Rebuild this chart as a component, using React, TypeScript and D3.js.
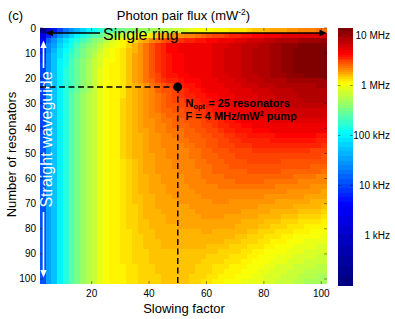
import React from "react";
import * as d3 from "d3";

// Slowing factor (cell centres) and number of resonators (cell centres)
const slowingFactor = [3,5,7,9,11,13,15,17,19,21,23,25,27,29,31,33,35,37,39,41,43,45,47,49,51,53,55,57,59,61,63,65,67,69,71,73,75,77,79,81,83,85,87,89,91,93,95,97,99,101];
const resonators = [1,3,5,7,9,11,13,15,17,19,21,23,25,27,29,31,33,35,37,39,41,43,45,47,49,51,53,55,57,59,61,63,65,67,69,71,73,75,77,79,81,83,85,87,89,91,93,95,97,99,101];

// log10(photon pair flux in Hz) x 100, one row per resonator count, one column per slowing factor
const logFluxX100 = [
[215,310,370,400,425,445,468,483,498,510,520,530,538,544,550,555,559,563,567,570,573,576,579,582,585,590,595,600,603,604,606,607,608,609,610,612,615,617,619,622,624,626,627,629,631,632,634,635,636,637],
[330,385,420,445,465,485,500,512,525,538,548,558,568,576,584,590,596,602,607,612,617,621,625,628,630,632,634,636,640,643,647,650,652,654,656,658,660,662,664,667,669,670,672,673,674,675,676,677,677,678],
[360,415,445,470,490,505,520,533,545,555,566,577,588,598,605,610,615,620,626,632,638,643,647,650,653,655,657,659,660,662,664,666,668,670,672,675,678,681,683,686,688,690,692,694,696,698,700,701,702,703],
[375,432,458,482,500,515,530,543,555,566,577,588,596,600,606,613,620,628,636,644,651,657,662,664,665,666,666,667,667,670,672,675,677,679,681,684,686,689,692,695,698,701,703,706,708,709,711,711,712,712],
[385,440,466,490,508,523,537,550,562,573,584,594,601,605,610,617,623,630,637,644,651,657,662,664,665,666,666,667,668,671,673,676,678,680,682,685,687,690,693,696,699,702,705,708,709,711,712,712,713,713],
[390,443,470,494,512,528,541,554,566,577,588,597,603,607,612,618,625,631,638,644,651,656,661,663,664,665,666,667,668,671,673,676,678,680,682,685,687,690,693,696,699,702,705,708,709,711,712,712,713,713],
[393,445,472,496,515,531,544,557,569,580,590,599,604,607,612,618,625,631,638,644,651,656,661,663,664,665,666,667,668,671,673,676,678,680,682,685,687,690,693,696,699,702,705,708,709,711,712,712,713,713],
[395,447,474,497,517,533,546,559,571,582,592,600,605,607,612,618,625,631,638,644,651,656,661,663,664,665,666,667,668,671,673,676,678,680,682,685,687,690,693,696,699,702,705,708,709,711,712,712,713,713],
[397,448,475,498,518,535,548,561,573,584,593,601,605,607,612,618,625,631,638,644,651,656,661,663,664,665,666,667,668,671,673,676,678,680,682,685,687,690,693,696,699,702,705,708,709,711,712,712,713,713],
[397,448,475,498,518,535,548,561,573,584,593,601,605,607,612,618,625,631,637,643,649,654,658,660,662,664,665,666,667,670,672,675,677,679,681,684,686,689,692,694,697,700,702,705,706,708,709,709,710,710],
[397,448,475,498,518,535,548,561,573,584,593,601,605,607,612,618,625,630,636,641,647,651,654,657,660,662,663,664,666,668,671,673,675,677,679,681,684,686,688,691,693,695,696,698,699,700,701,701,702,702],
[397,448,475,498,518,535,548,561,573,584,593,601,605,607,612,617,623,627,631,636,640,644,647,652,656,658,660,662,665,667,669,671,673,675,677,679,680,682,684,686,688,690,691,693,694,695,696,696,697,697],
[397,448,475,498,518,535,548,561,573,584,593,601,605,607,612,617,623,627,631,635,639,643,646,650,653,656,658,660,663,665,666,668,670,672,674,675,677,678,680,682,684,686,687,689,690,691,692,692,693,693],
[400,450,477,500,520,537,550,563,575,585,594,601,605,607,612,617,623,627,631,635,638,642,645,648,651,654,656,658,660,662,664,666,668,671,673,674,676,677,679,681,683,685,686,688,689,690,691,691,692,692],
[400,450,477,500,520,537,550,563,575,585,594,601,605,608,613,618,623,627,631,635,638,641,644,647,650,652,654,656,658,660,662,664,667,669,672,673,675,676,678,680,682,684,685,687,688,689,690,690,691,691],
[400,450,477,500,520,537,550,563,575,585,594,601,605,608,613,618,623,627,631,634,637,640,643,646,648,650,652,654,656,658,660,662,665,667,670,672,673,675,677,678,680,681,683,684,685,685,686,686,687,687],
[400,450,477,500,520,537,550,563,575,585,594,601,605,608,613,618,622,626,630,633,636,639,641,643,645,647,649,651,653,655,658,660,663,665,668,670,671,673,674,676,677,678,679,680,681,681,682,682,682,682],
[400,450,477,500,520,537,550,563,575,585,594,601,605,608,613,617,622,626,629,632,635,637,640,641,643,645,647,649,651,653,656,658,661,663,666,668,669,671,672,674,675,676,676,677,678,678,679,679,679,679],
[400,450,477,500,520,537,550,563,575,585,594,601,605,608,613,617,621,625,628,631,634,636,638,640,641,643,644,646,648,651,653,656,658,661,663,665,666,668,669,671,672,673,673,674,674,675,675,675,675,675],
[400,450,477,500,520,537,550,563,575,585,594,601,605,608,613,617,621,625,628,631,633,635,637,639,640,642,643,645,647,649,652,654,656,659,661,662,664,665,666,668,669,670,670,671,671,671,671,671,671,671],
[400,450,477,500,520,537,550,563,575,585,594,601,605,608,613,617,621,624,627,630,632,634,636,637,638,640,641,643,645,647,650,652,654,656,658,659,661,662,663,664,665,666,666,667,667,667,667,667,666,666],
[405,450,477,500,520,537,550,563,575,585,594,601,605,608,613,617,620,623,626,629,631,633,635,636,637,639,640,641,643,645,648,650,652,653,655,656,658,659,660,660,661,662,662,663,663,662,662,662,661,661],
[405,450,477,500,520,537,550,563,575,585,594,601,605,608,613,617,620,623,626,629,631,633,634,635,636,638,639,640,642,644,646,648,650,651,653,654,655,656,657,657,658,658,659,659,659,658,658,658,657,657],
[405,450,477,500,520,537,550,563,575,585,594,601,605,608,613,617,620,623,626,628,631,632,633,634,635,637,638,639,641,643,645,647,648,650,651,652,653,654,654,655,655,655,656,656,656,655,655,654,654,653],
[405,450,477,500,520,537,550,563,575,585,594,601,605,608,613,617,620,623,625,628,630,631,632,633,634,635,636,638,640,642,643,645,646,648,649,650,650,651,651,652,652,652,652,652,652,651,651,650,650,649],
[405,450,477,500,520,537,550,563,575,585,594,601,605,608,613,617,620,622,625,627,629,631,632,633,634,635,636,637,639,641,642,644,645,646,647,648,648,649,649,650,650,650,649,649,649,648,648,647,647,646],
[405,450,477,500,520,537,550,563,575,585,594,601,605,608,612,616,619,622,624,627,629,630,631,632,633,634,635,636,638,639,641,642,643,645,646,646,647,647,647,647,647,647,646,646,646,645,645,644,644,643],
[405,450,477,500,520,537,550,563,575,585,594,601,605,608,612,616,619,622,624,626,628,630,631,632,633,634,635,636,637,638,640,641,642,643,644,644,645,645,645,645,645,645,644,644,644,643,643,642,642,641],
[412,450,477,500,521,538,551,564,576,586,595,601,605,608,612,616,619,621,624,626,628,629,630,631,632,633,634,635,636,637,639,640,641,641,642,642,643,643,643,643,643,643,642,642,641,641,640,639,639,638],
[412,450,477,500,521,538,551,564,576,586,595,601,605,608,612,615,618,621,623,625,627,628,629,630,631,632,633,634,636,637,637,638,639,640,641,641,641,641,641,640,640,640,639,639,638,637,637,636,635,635],
[412,450,477,500,521,538,551,564,576,586,595,601,605,608,612,615,618,621,623,625,627,628,629,630,631,632,633,634,635,636,636,637,638,638,639,639,639,639,639,638,638,638,637,637,636,635,635,634,633,633],
[412,450,477,500,521,538,551,564,576,586,595,601,605,608,612,615,618,620,622,624,626,627,628,629,630,631,632,633,634,635,635,636,636,637,637,637,637,637,637,636,636,635,635,634,633,633,632,631,631,630],
[412,450,477,500,521,538,551,564,576,586,595,601,605,608,611,614,617,620,622,624,626,627,628,629,630,630,631,632,633,633,634,634,634,635,635,635,634,634,634,633,633,632,632,631,630,630,629,628,628,627],
[412,450,477,500,521,538,551,564,576,586,595,601,605,608,611,614,617,619,621,623,625,626,627,628,629,629,630,631,632,632,633,633,633,633,633,633,632,632,632,631,631,630,630,629,628,628,627,626,626,625],
[412,450,477,500,521,538,551,564,576,586,595,601,605,608,611,614,617,619,621,623,624,625,626,627,628,628,629,630,631,631,632,632,632,631,631,631,630,630,629,629,628,627,627,626,625,625,624,623,623,622],
[412,450,477,500,521,538,551,564,576,586,595,601,605,607,611,613,616,618,620,622,624,625,626,626,627,627,628,629,630,630,630,630,630,630,630,629,629,628,627,627,626,625,625,624,623,622,621,620,620,619],
[412,450,477,500,521,538,551,564,576,586,595,601,605,607,611,613,616,618,620,622,623,624,625,625,626,626,627,628,629,629,629,629,629,628,628,627,627,626,625,624,623,622,622,621,620,619,618,617,617,616],
[412,450,477,500,521,538,551,564,576,586,595,601,605,607,610,613,616,618,620,621,622,623,624,624,625,625,626,627,628,628,628,628,627,627,626,625,625,624,623,622,621,620,619,618,617,616,615,614,613,612],
[412,450,477,500,521,538,551,564,576,586,595,601,605,607,610,613,615,617,619,621,622,623,624,624,625,625,625,625,626,626,626,626,625,625,624,623,623,622,621,619,618,617,616,615,614,612,611,610,609,608],
[412,450,477,500,521,538,551,564,576,586,595,601,605,607,610,613,615,617,619,620,621,622,623,623,624,624,624,624,625,625,625,625,624,624,623,622,621,620,619,617,616,615,613,612,611,609,608,607,606,605],
[412,450,477,500,521,538,551,564,576,586,595,601,605,607,610,612,615,617,618,619,620,621,622,622,623,623,623,623,624,624,623,623,622,622,621,620,619,618,616,615,613,612,610,609,608,606,605,604,602,601],
[412,450,477,500,521,538,551,564,576,586,595,601,605,607,609,612,614,616,618,619,620,621,622,622,622,622,622,622,622,622,622,622,621,620,619,618,616,615,614,612,611,609,608,606,604,603,601,600,599,598],
[412,450,477,500,521,538,551,564,576,586,595,601,605,607,609,612,614,616,617,618,619,620,621,621,621,621,621,621,621,621,620,620,619,618,617,616,614,613,611,610,608,606,605,603,601,600,598,597,595,594],
[412,450,477,500,521,538,551,564,576,586,595,601,605,607,609,612,614,616,617,618,619,620,620,620,620,620,620,620,620,619,619,618,617,616,615,614,612,611,609,607,605,603,602,600,598,597,595,594,592,591],
[412,450,477,500,521,538,551,564,576,586,595,601,605,606,609,611,613,615,616,617,618,619,619,619,619,619,619,619,618,617,617,616,615,614,613,611,610,608,606,604,602,600,599,597,595,593,591,590,588,587],
[412,450,477,500,521,538,551,564,576,586,595,601,605,606,609,611,613,615,616,617,618,619,619,619,619,619,619,618,617,616,616,615,614,612,611,609,608,606,604,602,600,598,596,594,592,590,588,587,585,584],
[412,450,477,500,521,538,551,564,576,586,595,601,605,606,609,611,613,615,616,617,618,619,619,619,619,619,618,617,616,615,614,613,612,610,609,607,606,604,602,599,597,595,593,591,589,587,585,584,582,581],
[412,450,477,500,521,538,551,564,576,586,595,601,605,606,608,610,612,614,615,616,617,618,618,618,618,618,617,616,615,614,612,611,610,608,607,605,603,601,599,596,594,592,590,588,586,584,582,581,579,578],
[412,450,477,500,521,538,551,564,576,586,595,601,605,606,608,610,612,614,615,616,617,618,618,618,618,618,617,616,614,613,611,610,608,607,605,603,601,599,597,594,592,590,587,585,583,581,579,578,576,575],
[412,450,477,500,521,538,551,564,576,586,595,601,605,605,608,610,611,613,614,615,616,617,617,617,617,617,616,615,613,611,610,608,606,605,603,601,599,597,595,592,590,588,585,583,581,578,576,575,573,572],
[412,450,477,500,521,538,551,564,576,586,595,601,605,605,608,610,611,613,614,615,616,617,617,617,617,617,616,615,612,610,607,605,603,601,599,598,596,595,593,590,588,585,583,580,578,575,573,572,570,569],
];

const xTicks = [20, 40, 60, 80, 100];
const yTicks = [0, 10, 20, 30, 40, 50, 60, 70, 80, 90, 100];
const cbTickValues = [1e3, 1e4, 1e5, 1e6, 1e7];
const cbTickLabels = ["1 kHz", "10 kHz", "100 kHz", "1 MHz", "10 MHz"];
const optSlowing = [50];
const optResonators = [23.5];

const FONT = "'Liberation Sans', Arial, Helvetica, sans-serif";

const x = d3.scaleLinear().domain([2, 102]).range([40, 327]);
const y = d3.scaleLinear().domain([0, 102]).range([28, 284]);
const cb = d3.scaleLog().domain([Math.pow(10, 2.0), Math.pow(10, 7.15)]).range([285.5, 28]);
const tScale = d3
  .scaleLinear()
  .domain([2.0, 3.58, 5.05, 6.05, 6.65, 7.15])
  .range([0, 0.125, 0.375, 0.625, 0.875, 1])
  .clamp(true);

function clamp01(v: number) {
  return Math.max(0, Math.min(1, v));
}
function jetColor(logV: number) {
  const t = tScale(logV);
  const k = Math.min(63, Math.floor(t * 64));
  const u = k / 63;
  const r = clamp01(1.5 - Math.abs(4 * u - 3));
  const g = clamp01(1.5 - Math.abs(4 * u - 2));
  const b = clamp01(1.5 - Math.abs(4 * u - 1));
  return d3.rgb(r * 255, g * 255, b * 255).formatHex();
}

export default function App() {
  const cells: React.ReactNode[] = [];
  logFluxX100.forEach((row, j) => {
    const n = resonators[j];
    row.forEach((v, i) => {
      const s = slowingFactor[i];
      cells.push(
        <rect
          key={`c${j}-${i}`}
          x={x(s - 1)}
          y={y(n - 1)}
          width={x(s + 1) - x(s - 1)}
          height={y(n + 1) - y(n - 1)}
          fill={jetColor(v / 100)}
        />
      );
    });
  });

  const cbRows: React.ReactNode[] = [];
  for (let py = 28; py < 285.5; py += 1) {
    const val = cb.invert(py + 0.5);
    cbRows.push(
      <rect key={`cb${py}`} x={338} y={py} width={14.7} height={1} fill={jetColor(Math.log10(val))} />
    );
  }

  const tickColor = "rgba(0,0,0,0.55)";
  const ox = x(optSlowing[0]);
  const oy = y(optResonators[0]);

  return (
    <svg
      width={395}
      height={319}
      style={{ position: "fixed", left: 0, top: 0, background: "#fff" }}
      fontFamily={FONT}
    >
      <g shapeRendering="crispEdges">{cells}</g>
      <g shapeRendering="crispEdges">{cbRows}</g>

      {/* axis ticks (inward, all sides) */}
      {xTicks.map((t) => (
        <g key={`xt${t}`} stroke={tickColor} strokeWidth={0.8}>
          <line x1={x(t)} x2={x(t)} y1={284} y2={281} />
          <line x1={x(t)} x2={x(t)} y1={28} y2={31} />
        </g>
      ))}
      {yTicks.map((t) => (
        <g key={`yt${t}`} stroke={tickColor} strokeWidth={0.8}>
          <line x1={40} x2={43} y1={y(t)} y2={y(t)} />
          <line x1={327} x2={324} y1={y(t)} y2={y(t)} />
        </g>
      ))}
      {cbTickValues.map((t) => (
        <g key={`ct${t}`} stroke={tickColor} strokeWidth={0.8}>
          <line x1={338} x2={340.5} y1={cb(t)} y2={cb(t)} />
          <line x1={352.7} x2={350.2} y1={cb(t)} y2={cb(t)} />
        </g>
      ))}

      {/* tick labels */}
      {xTicks.map((t) => (
        <text key={`xl${t}`} x={x(t)} y={297} fontSize={10} textAnchor="middle" fill="#000">
          {t}
        </text>
      ))}
      {yTicks.map((t) => (
        <text key={`yl${t}`} x={36} y={y(t)} dy="0.35em" fontSize={10} textAnchor="end" fill="#000">
          {t}
        </text>
      ))}
      {cbTickValues.map((t, i) => (
        <text key={`cl${t}`} x={390} y={cb(t)} dy="0.35em" fontSize={10} textAnchor="end" fill="#000">
          {cbTickLabels[i]}
        </text>
      ))}

      {/* titles */}
      <text x={8} y={20} fontSize={13} fill="#000">(c)</text>
      <text x={183.5} y={20} fontSize={13} textAnchor="middle" fill="#000">
        Photon pair flux (mW
        <tspan fontSize={8.5} dy={-5}>-2</tspan>
        <tspan dy={5}>)</tspan>
      </text>
      <text x={184} y={312.5} fontSize={13} textAnchor="middle" fill="#000">Slowing factor</text>
      <text transform="translate(15.5,154.5) rotate(-90)" fontSize={13} textAnchor="middle" fill="#000">
        Number of resonators
      </text>

      {/* Single ring arrow */}
      <g stroke="#000" strokeWidth={1.6}>
        <line x1={50} x2={100} y1={33} y2={33} />
        <line x1={181} x2={321} y1={33} y2={33} />
      </g>
      <polygon points="45.5,33 53,29.8 53,36.2" fill="#000" />
      <polygon points="327,33 319.5,29.8 319.5,36.2" fill="#000" />
      <text x={103} y={39.5} fontSize={16} fill="#000">Single ring</text>

      {/* Straight waveguide arrow */}
      <g stroke="#fff" strokeWidth={1.6}>
        <line x1={43.5} x2={43.5} y1={47} y2={68} />
        <line x1={43.5} x2={43.5} y1={212} y2={271} />
      </g>
      <polygon points="43.5,40.5 40.3,48 46.7,48" fill="#fff" />
      <polygon points="43.5,277.5 40.3,270 46.7,270" fill="#fff" />
      <text transform="translate(52,139.5) rotate(-90)" fontSize={16} textAnchor="middle" fill="#fff">
        Straight waveguide
      </text>

      {/* optimum marker */}
      <g stroke="#000" strokeWidth={1.5} strokeDasharray="6 3.5" fill="none">
        <line x1={40} x2={ox} y1={oy} y2={oy} />
        <line x1={ox} x2={ox} y1={oy} y2={284} />
      </g>
      <circle cx={ox} cy={oy} r={4.4} fill="#000" />
      <text x={185.5} y={106.5} fontSize={11} fontWeight="bold" fill="#000">
        N<tspan fontSize={7.5} dy={2.5}>opt</tspan>
        <tspan dy={-2.5}> = 25 resonators</tspan>
      </text>
      <text x={185.5} y={120} fontSize={11} fontWeight="bold" fill="#000">
        F = 4 MHz/mW<tspan fontSize={7} dy={-4}>2</tspan>
        <tspan dy={4}> pump</tspan>
      </text>
    </svg>
  );
}
